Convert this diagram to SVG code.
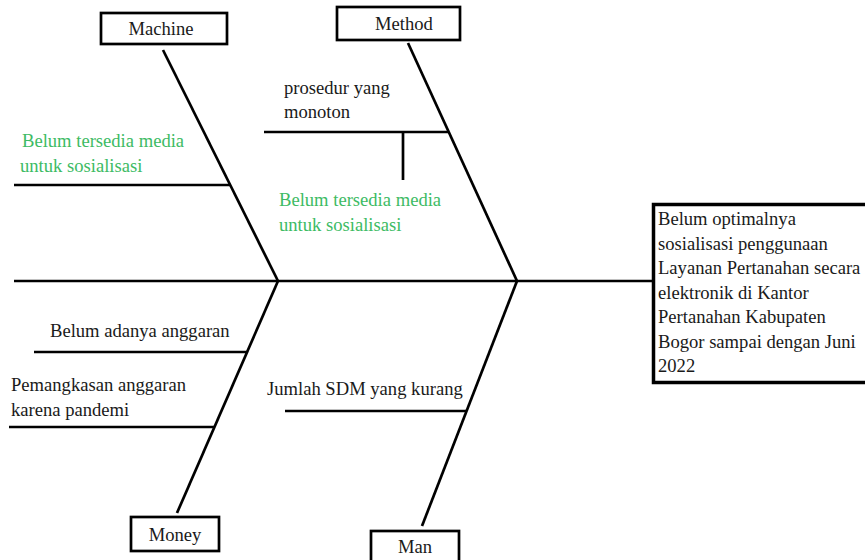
<svg xmlns="http://www.w3.org/2000/svg" width="865" height="560" viewBox="0 0 865 560">
<style>
.ln{stroke:#000;stroke-width:2.7;fill:none}
.bx{fill:#fff;stroke:#000;stroke-width:2.7}
text{font-family:'Liberation Serif','DejaVu Serif',serif;font-size:18.6px;fill:#1a1a1a}
.g{fill:#3dbb64}
</style>
<rect width="865" height="560" fill="#fff"/>
<g id="connectors">
<line class="ln" x1="14" y1="281" x2="652" y2="281"/>
<line class="ln" x1="163" y1="50" x2="278" y2="281"/>
<line class="ln" x1="278" y1="281" x2="177" y2="513"/>
<line class="ln" x1="408" y1="43" x2="517" y2="281"/>
<line class="ln" x1="517" y1="281" x2="422" y2="526"/>
<line class="ln" x1="14" y1="185" x2="231" y2="185"/>
<line class="ln" x1="264" y1="132" x2="449" y2="132"/>
<line class="ln" x1="403" y1="132" x2="403" y2="180"/>
<line class="ln" x1="34" y1="352" x2="247" y2="352"/>
<line class="ln" x1="9" y1="427" x2="214" y2="427"/>
<line class="ln" x1="285" y1="411" x2="467" y2="411"/>
</g>
<g id="machine"><rect class="bx" x="101" y="13" width="126" height="31"/><text x="161" y="35" text-anchor="middle">Machine</text></g>
<g id="method"><rect class="bx" x="337" y="7" width="123" height="33"/><text x="404" y="30" text-anchor="middle">Method</text></g>
<g id="money"><rect class="bx" x="131" y="517" width="88" height="34"/><text x="175" y="541" text-anchor="middle">Money</text></g>
<g id="man"><rect class="bx" x="371" y="531" width="88" height="34"/><text x="415" y="553" text-anchor="middle">Man</text></g>
<g id="effect"><rect x="653.5" y="204.5" width="215" height="178" fill="#fff" stroke="#000" stroke-width="3.5"/>
<text><tspan x="658" y="225">Belum optimalnya</tspan><tspan x="658" y="250">sosialisasi penggunaan</tspan><tspan x="658" y="274">Layanan Pertanahan secara</tspan><tspan x="658" y="299">elektronik di Kantor</tspan><tspan x="658" y="323">Pertanahan Kabupaten</tspan><tspan x="658" y="348">Bogor sampai dengan Juni</tspan><tspan x="658" y="372">2022</tspan></text></g>
<g id="c-machine"><text class="g"><tspan x="22" y="147">Belum tersedia media</tspan><tspan x="20" y="172">untuk sosialisasi</tspan></text></g>
<g id="c-method1"><text><tspan x="284" y="94">prosedur yang</tspan><tspan x="284" y="118">monoton</tspan></text></g>
<g id="c-method2"><text class="g"><tspan x="279" y="206">Belum tersedia media</tspan><tspan x="279" y="231">untuk sosialisasi</tspan></text></g>
<g id="c-money1"><text x="50" y="337">Belum adanya anggaran</text></g>
<g id="c-money2"><text><tspan x="11" y="391">Pemangkasan anggaran</tspan><tspan x="11" y="416">karena pandemi</tspan></text></g>
<g id="c-man"><text x="267" y="395">Jumlah SDM yang kurang</text></g>
</svg>
